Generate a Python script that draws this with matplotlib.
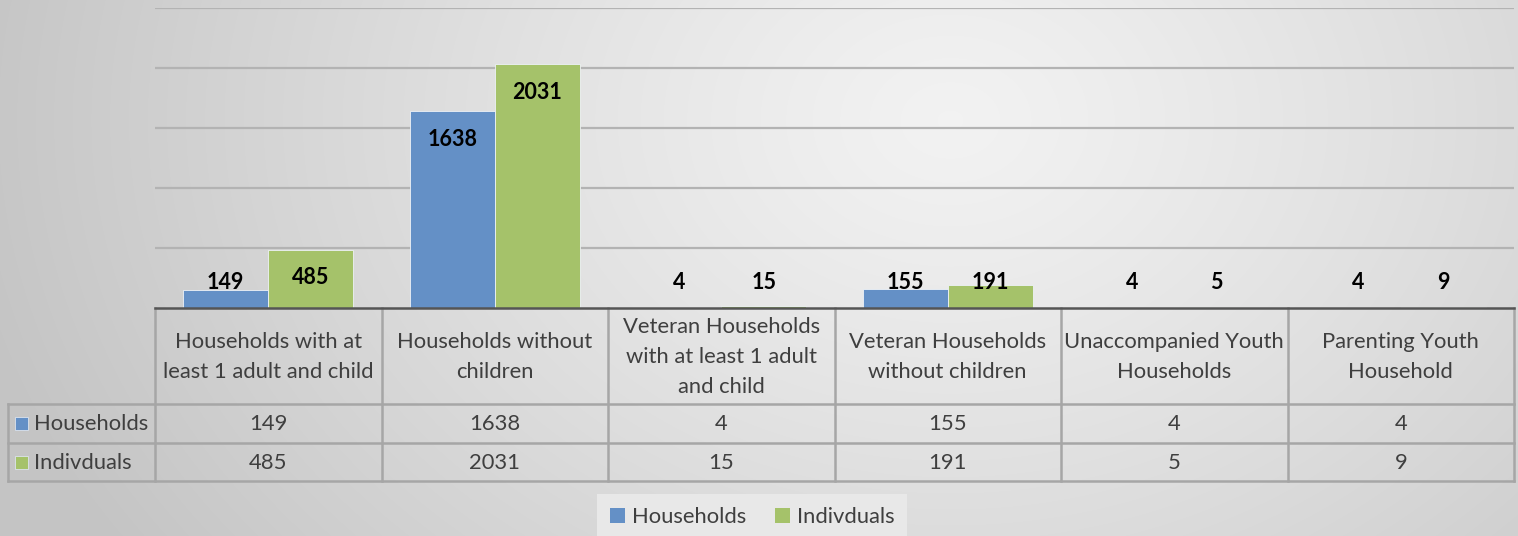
import matplotlib
matplotlib.use("Agg")
import matplotlib.pyplot as plt
import numpy as np
from matplotlib.patches import Rectangle

plt.rcParams['font.family'] = ['Lato', 'DejaVu Sans']

categories = [
    "Households with at\nleast 1 adult and child",
    "Households without\nchildren",
    "Veteran Households\nwith at least 1 adult\nand child",
    "Veteran Households\nwithout children",
    "Unaccompanied Youth\nHouseholds",
    "Parenting Youth\nHousehold",
]
series_names = ["Households", "Indivduals"]
households = [149, 1638, 4, 155, 4, 4]
individuals = [485, 2031, 15, 191, 5, 9]
colors = ["#6490c6", "#a5c26a"]

W, H = 1518, 536
fig = plt.figure(figsize=(W / 100, H / 100), dpi=100)

# background radial gradient
bg = fig.add_axes([0, 0, 1, 1], zorder=0)
yy, xx = np.mgrid[0:H, 0:W]
d = np.sqrt(((xx - 950) / 1.0) ** 2 + ((yy - 120) * 1.3) ** 2)
v = 0.95 - 0.18 * np.clip(d / 1000, 0, 1) ** 1.2
bg.imshow(np.dstack([v, v, v]), extent=[0, W, H, 0], aspect='auto')
bg.set_axis_off()

def fx(x):
    return x / W

def fy(y):
    return 1 - y / H

L, R, T, B = 155, 1514, 8, 308
ax = fig.add_axes([fx(L), fy(B), fx(R) - fx(L), fy(T) - fy(B)], zorder=2)
ax.patch.set_alpha(0)
n = len(categories)
x = np.arange(n)
bw = 0.375
ax.set_xlim(-0.5, n - 0.5)
ax.set_ylim(0, 2500)
ax.set_yticks([500, 1000, 1500, 2000, 2500])
ax.yaxis.grid(True, color="#b3b3b3", linewidth=1.6)
ax.set_axisbelow(True)
ax.tick_params(left=False, bottom=False, labelleft=False, labelbottom=False)
for s in ["left", "right", "top"]:
    ax.spines[s].set_visible(False)
ax.spines["bottom"].set_color("#555555")
ax.spines["bottom"].set_linewidth(1.8)
ax.spines["bottom"].set_zorder(5)

for vals, off, c in [(households, -bw / 2, colors[0]), (individuals, bw / 2, colors[1])]:
    ax.bar(x + off, vals, width=bw, color=c, edgecolor="#eef2f7", linewidth=0.6, zorder=3)
    for xi, val in zip(x + off, vals):
        ypos = max(val - 233, 210)
        ax.text(xi, ypos, str(val), ha="center", va="center", fontsize=15.5,
                fontweight="bold", color="black", zorder=4)

# data table
t = fig.add_axes([0, 0, 1, 1], zorder=1)
t.set_xlim(0, W)
t.set_ylim(H, 0)
t.set_axis_off()
t.patch.set_alpha(0)
lc = "#a6a6a6"
lw = 1.8
cw = (R - L) / n
rows_y = [308, 404, 443, 481]
t.plot([8, R], [rows_y[1], rows_y[1]], color=lc, lw=lw)
t.plot([8, R], [rows_y[2], rows_y[2]], color=lc, lw=lw)
t.plot([8, R], [rows_y[3], rows_y[3]], color=lc, lw=lw)
t.plot([8, 8], [rows_y[1], rows_y[3]], color=lc, lw=lw)
for i in range(n + 1):
    xv = L + i * cw
    t.plot([xv, xv], [rows_y[0], rows_y[3]], color=lc, lw=lw)

tc = "#3f3f3f"
fs = 15.8
for i, cat in enumerate(categories):
    cx = L + (i + 0.5) * cw
    t.text(cx, (rows_y[0] + rows_y[1]) / 2 + 1, cat, ha="center", va="center",
           fontsize=fs, color=tc, linespacing=1.6)
    t.text(cx, (rows_y[1] + rows_y[2]) / 2 + 1, str(households[i]), ha="center",
           va="center", fontsize=fs, color=tc)
    t.text(cx, (rows_y[2] + rows_y[3]) / 2 + 1, str(individuals[i]), ha="center",
           va="center", fontsize=fs, color=tc)

for j, (name, c) in enumerate(zip(series_names, colors)):
    cy = (rows_y[1 + j] + rows_y[2 + j]) / 2
    t.add_patch(Rectangle((15, cy - 6.5), 13, 13, facecolor=c, edgecolor="#dde4ee", lw=0.6))
    t.text(34, cy + 1, name, ha="left", va="center", fontsize=fs, color=tc)

# legend
handles = [Rectangle((0, 0), 1, 1, facecolor=c) for c in colors]
leg = fig.legend(handles, series_names, loc="center",
                 bbox_to_anchor=(fx(752), fy(517)), ncol=2, frameon=True,
                 fontsize=fs, handlelength=0.7, handleheight=0.7,
                 handletextpad=0.3, columnspacing=1.3, borderpad=0.6,
                 borderaxespad=0, fancybox=False)
leg.get_frame().set_facecolor("#e8e8e8")
leg.get_frame().set_edgecolor("none")
leg.get_frame().set_alpha(1)
for txt in leg.get_texts():
    txt.set_color(tc)

fig.savefig("out.png", dpi=100)
